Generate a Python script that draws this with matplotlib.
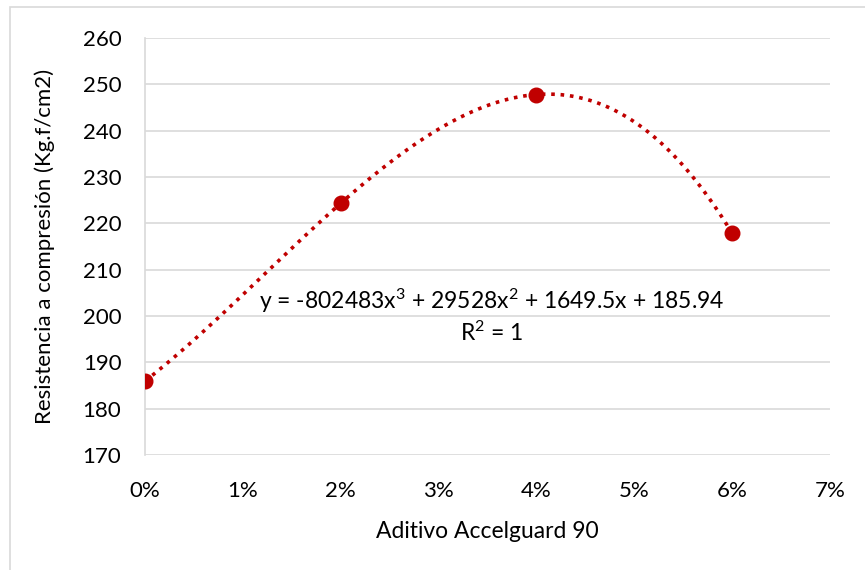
import numpy as np
import matplotlib.pyplot as plt
from matplotlib.ticker import PercentFormatter

# datos
aditivo = [0.00, 0.02, 0.04, 0.06]
resistencia = [185.94, 224.32, 247.80, 217.87]
ecuacion = r'y = -802483x$^{3}$ + 29528x$^{2}$ + 1649.5x + 185.94'
r2 = r'R$^{2}$ = 1'

plt.rcParams['font.family'] = ['Lato', 'DejaVu Sans']
plt.rcParams['mathtext.fontset'] = 'custom'
plt.rcParams['mathtext.rm'] = 'Lato'
plt.rcParams['mathtext.it'] = 'Lato'
plt.rcParams['mathtext.default'] = 'rm'

fig = plt.figure(figsize=(8.65, 5.70), dpi=100)
ax = fig.add_axes([0.1676, 0.2018, 0.7919, 0.7315])

# borde del grafico
fig.patches.append(plt.Rectangle((0.012, -0.01), 0.99, 0.997, transform=fig.transFigure,
                                 fill=False, edgecolor='#d9d9d9', linewidth=1.2))

coef = np.polyfit(aditivo, resistencia, 3)
xs = np.linspace(0, 0.06, 200)
ax.plot(xs, np.polyval(coef, xs), color='#c00000', linestyle=(0, (1, 1.6)),
        linewidth=2.6, zorder=2)
ax.plot(aditivo, resistencia, 'o', color='#c00000', markersize=10.5, zorder=3)

ax.set_xlim(0, 0.07)
ax.set_ylim(170, 260)
ax.set_xticks(np.arange(0, 0.071, 0.01))
ax.set_yticks(np.arange(170, 261, 10))
ax.xaxis.set_major_formatter(PercentFormatter(1.0, decimals=0))
ax.grid(axis='y', color='#d9d9d9', linewidth=1.2)
ax.set_axisbelow(True)
for s in ['top', 'right', 'bottom']:
    ax.spines[s].set_visible(False)
ax.spines['left'].set_color('#d9d9d9')
ax.spines['left'].set_linewidth(1.2)
ax.tick_params(length=0, labelsize=16, colors='black')
ax.tick_params(axis='y', pad=17)
ax.tick_params(axis='x', pad=19)

ax.set_xlabel('Aditivo Accelguard 90', fontsize=16.5, labelpad=14)
ax.set_ylabel('Resistencia a compresión (Kg.f/cm2)', fontsize=16, labelpad=20)

ax.text(0.0354, 203.3, ecuacion, fontsize=16.5, ha='center', va='center')
ax.text(0.0354, 196.3, r2, fontsize=16.5, ha='center', va='center')

fig.savefig('out.png', dpi=100)
